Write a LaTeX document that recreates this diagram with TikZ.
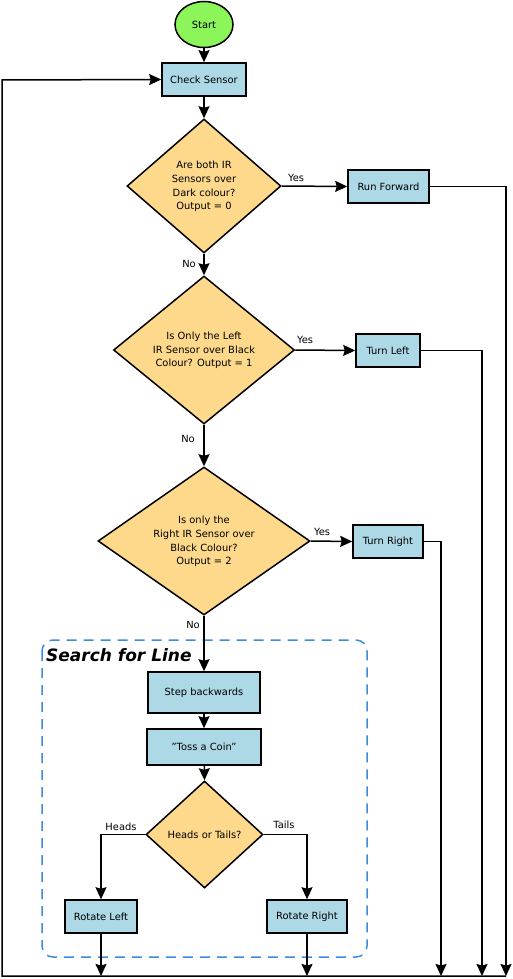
\documentclass[tikz,border=0pt]{standalone}
\usepackage{fontspec}
\setmainfont{DejaVu Sans}
\usetikzlibrary{shapes.geometric,arrows.meta}
\definecolor{boxblue}{RGB}{173,216,230}
\definecolor{decfill}{RGB}{254,217,140}
\definecolor{startgreen}{RGB}{140,245,90}
\definecolor{groupblue}{RGB}{60,140,220}
\tikzset{
  txt/.style={font=\fontsize{9.9}{13.7}\selectfont},
  proc/.style={draw=black, fill=boxblue, line width=1.6pt, inner sep=0pt, txt},
  dec/.style={diamond, draw=black, fill=decfill, line width=1.5pt, inner sep=0pt},
  dectext/.style={txt, align=center, inner sep=0pt},
  lbl/.style={txt, inner sep=0pt},
  flow/.style={line width=1.5pt, -{Stealth[length=12pt,width=11pt,inset=1.5pt]}},
}
\begin{document}
\begin{tikzpicture}[x=1pt,y=-1pt]
\useasboundingbox (0,0) rectangle (512,979);
% group box
\draw[groupblue, line width=1.5pt, dash pattern=on 10pt off 7pt, rounded corners=11pt] (42,640) rectangle (367,957);
\node[anchor=base west, inner sep=0pt, font=\fontsize{17}{20}\selectfont\bfseries\itshape] (grp) at (46,661) {Search for Line};

\node[ellipse, draw=black, fill=startgreen, line width=1.5pt, minimum width=58pt, minimum height=46pt, inner sep=0pt, txt] (start) at (204,24.5) {Start};
\node[proc, minimum width=84pt, minimum height=33pt] (check) at (204,79.5) {Check Sensor};

\node[dec, minimum width=154pt, minimum height=134pt] (d1) at (204,186) {};
\node[dectext] (d1t) at (204,186.5) {Are both IR\\Sensors over\\Dark colour?\\Output = 0};
\node[proc, minimum width=81pt, minimum height=33pt] (rf) at (388.5,186.5) {Run Forward};

\node[dec, minimum width=181pt, minimum height=148pt] (d2) at (204,350) {};
\node[dectext] (d2t) at (204,350.5) {Is Only the Left\\IR Sensor over Black\\Colour? Output = 1};
\node[proc, minimum width=64pt, minimum height=33pt] (tl) at (388,350.5) {Turn Left};

\node[dec, minimum width=212pt, minimum height=148pt] (d3) at (204,541) {};
\node[dectext] (d3t) at (204,541.5) {Is only the\\Right IR Sensor over\\Black Colour?\\Output = 2};
\node[proc, minimum width=70pt, minimum height=33pt] (tr) at (388,541.5) {Turn Right};

\node[proc, minimum width=112pt, minimum height=41pt] (step) at (204,692.5) {Step backwards};
\node[proc, minimum width=114pt, minimum height=36pt] (toss) at (204,747) {\char34 Toss a Coin\char34};
\node[dec, minimum width=117pt, minimum height=107pt] (d4) at (204.5,834.5) {};
\node[dectext] (d4t) at (204.5,834.5) {Heads or Tails?};
\node[proc, minimum width=72pt, minimum height=33pt] (rl) at (101,916.5) {Rotate Left};
\node[proc, minimum width=80pt, minimum height=33pt] (rr) at (307,916.5) {Rotate Right};

% coordinates
\coordinate (bl) at (101,976);
\coordinate (br) at (307,976);
\coordinate (b441) at (441,976);
\coordinate (b482) at (482,976);
\coordinate (b506) at (506,976);
\coordinate (b0) at (2,976);
\coordinate (t0) at (2,80);

% connectors
\draw[flow] (start) -- (check);
\draw[flow] (check) -- (d1);
\draw[flow] (d1.east) -- (rf.west);
\draw[flow] (d1.south) -- (d2.north);
\draw[flow] (d2.east) -- (tl.west);
\draw[flow] (d2.south) -- (d3.north);
\draw[flow] (d3.east) -- (tr.west);
\draw[flow] (d3.south) -- (step.north);
\draw[flow] (step) -- (toss);
\draw[flow] (toss) -- (d4.north);
\draw[flow] (d4.west) -| (rl.north);
\draw[flow] (d4.east) -| (rr.north);
\draw[flow] (rl.south) -- (bl);
\draw[flow] (rr.south) -- (br);
\draw[flow] (rf.east) -| (b506);
\draw[flow] (tl.east) -| (b482);
\draw[flow] (tr.east) -| (b441);
\draw[flow] (b506) -- (b0) -- (t0) -- (check.west);

% labels
\node[lbl] (y1) at (296,178) {Yes};
\node[lbl] (n1) at (189,264) {No};
\node[lbl] (y2) at (305,340) {Yes};
\node[lbl] (n2) at (188,439) {No};
\node[lbl] (y3) at (322,532) {Yes};
\node[lbl] (n3) at (193,625) {No};
\node[lbl] (hd) at (121,827) {Heads};
\node[lbl] (tl2) at (284,825) {Tails};
\end{tikzpicture}
\end{document}
